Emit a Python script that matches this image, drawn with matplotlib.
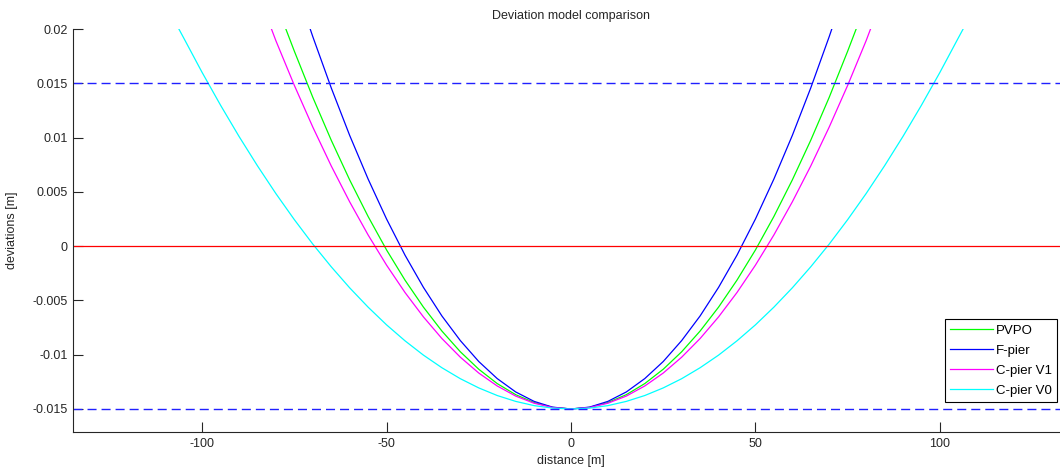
import matplotlib
matplotlib.use('Agg')
import matplotlib.pyplot as plt
from matplotlib.ticker import FixedLocator, FuncFormatter

# distances [m] and deviations [m]
x_fpier = [-70.7, -70, -65, -60, -55, -50, -45, -40, -35, -30, -25, -20, -15, -10, -5, 0,
           5, 10, 15, 20, 25, 30, 35, 40, 45, 50, 55, 60, 65, 70, 70.7]
y_fpier = [0.0200, 0.0193, 0.01458, 0.0102, 0.00618, 0.0025, -0.00083, -0.0038, -0.00643,
           -0.0087, -0.01063, -0.0122, -0.01343, -0.0143, -0.01483, -0.0150,
           -0.01483, -0.0143, -0.01343, -0.0122, -0.01063, -0.0087, -0.00643, -0.0038,
           -0.00083, 0.0025, 0.00618, 0.0102, 0.01458, 0.0193, 0.0200]

x_pvpo = [-77.3, -75, -70, -65, -60, -55, -50, -45, -40, -35, -30, -25, -20, -15, -10, -5, 0,
          5, 10, 15, 20, 25, 30, 35, 40, 45, 50, 55, 60, 65, 70, 75, 77.3]
y_pvpo = [0.0200, 0.01796, 0.01371, 0.00976, 0.0061, 0.00273, -0.00035, -0.00313, -0.00562,
          -0.00782, -0.00973, -0.01134, -0.01266, -0.01368, -0.01441, -0.01485, -0.0150,
          -0.01485, -0.01441, -0.01368, -0.01266, -0.01134, -0.00973, -0.00782, -0.00562,
          -0.00313, -0.00035, 0.00273, 0.0061, 0.00976, 0.01371, 0.01796, 0.0200]

x_cv1 = [-81.2, -80, -75, -70, -65, -60, -55, -50, -45, -40, -35, -30, -25, -20, -15, -10, -5, 0,
         5, 10, 15, 20, 25, 30, 35, 40, 45, 50, 55, 60, 65, 70, 75, 80, 81.2]
y_cv1 = [0.0200, 0.01892, 0.01481, 0.01097, 0.00739, 0.00408, 0.00103, -0.00175, -0.00427,
         -0.00652, -0.00851, -0.01023, -0.01169, -0.01288, -0.01381, -0.01447, -0.01487, -0.0150,
         -0.01487, -0.01447, -0.01381, -0.01288, -0.01169, -0.01023, -0.00851, -0.00652,
         -0.00427, -0.00175, 0.00103, 0.00408, 0.00739, 0.01097, 0.01481, 0.01892, 0.0200]

x_cv0 = [-106.3, -105, -100, -95, -90, -85, -80, -75, -70, -65, -60, -55, -50, -45, -40, -35,
         -30, -25, -20, -15, -10, -5, 0, 5, 10, 15, 20, 25, 30, 35, 40, 45, 50, 55, 60, 65,
         70, 75, 80, 85, 90, 95, 100, 105, 106.3]
y_cv0 = [0.0200, 0.01918, 0.0160, 0.01298, 0.01011, 0.0074, 0.00484, 0.00244, 0.00019,
         -0.0019, -0.00384, -0.00562, -0.00725, -0.00872, -0.01004, -0.0112, -0.01221,
         -0.01306, -0.01376, -0.0143, -0.01469, -0.01492, -0.0150, -0.01492, -0.01469,
         -0.0143, -0.01376, -0.01306, -0.01221, -0.0112, -0.01004, -0.00872, -0.00725,
         -0.00562, -0.00384, -0.0019, 0.00019, 0.00244, 0.00484, 0.0074, 0.01011, 0.01298,
         0.0160, 0.01918, 0.0200]

limits_y = [-0.015, 0.015]
x_ticks = [-100, -50, 0, 50, 100]
y_ticks = [-0.015, -0.01, -0.005, 0, 0.005, 0.01, 0.015, 0.02]

plt.rcParams['font.family'] = ['Liberation Sans', 'DejaVu Sans']
plt.rcParams['font.size'] = 9
plt.rcParams['axes.unicode_minus'] = False
plt.rcParams['lines.scale_dashes'] = False

fig = plt.figure(figsize=(10.6, 4.7), dpi=100)
ax = fig.add_axes([73 / 1060, 1 - 432 / 470, 996 / 1060, 403 / 470])

lw = 0.9
ax.plot(x_pvpo, y_pvpo, color='#00ff00', lw=lw, label='PVPO')
ax.plot(x_fpier, y_fpier, color='#0000ff', lw=lw, label='F-pier')
ax.plot(x_cv1, y_cv1, color='#ff00ff', lw=lw, label='C-pier V1')
ax.plot(x_cv0, y_cv0, color='#00ffff', lw=lw, label='C-pier V0')

ax.axhline(0, color='#ff0000', lw=lw)
for yl in limits_y:
    ax.axhline(yl, color='#2020ff', lw=1.0, linestyle=(0, (6.5, 3.6)))

ax.set_xlim(-135, 135)
ax.set_ylim(-0.01712, 0.02)

ax.xaxis.set_major_locator(FixedLocator(x_ticks))
ax.yaxis.set_major_locator(FixedLocator(y_ticks))
ax.yaxis.set_major_formatter(FuncFormatter(lambda v, p: '%g' % round(v, 4)))
ax.tick_params(direction='in', length=7, width=0.8, color='#262626', pad=4,
               labelcolor='#262626')

ax.spines['top'].set_visible(False)
ax.spines['right'].set_visible(False)
for s in ('left', 'bottom'):
    ax.spines[s].set_color('#262626')
    ax.spines[s].set_linewidth(0.8)

ax.set_title('Deviation model comparison', fontsize=9, pad=7, color='#262626')
ax.set_xlabel('distance [m]', color='#262626')
ax.set_ylabel('deviations [m]', color='#262626')
ax.xaxis.set_label_coords(0.5, -0.058)
ax.yaxis.set_label_coords(-0.055, 0.5)

leg = ax.legend(loc='upper left', bbox_to_anchor=(945 / 1060, 1 - 319 / 470),
                bbox_transform=fig.transFigure, fancybox=False, framealpha=1,
                edgecolor='black', handlelength=3.2, handletextpad=0.25,
                labelspacing=0.6, borderpad=0.4, borderaxespad=0,
                prop={'size': 9.5})
leg.get_frame().set_linewidth(0.8)

fig.savefig('out.png', dpi=100)
